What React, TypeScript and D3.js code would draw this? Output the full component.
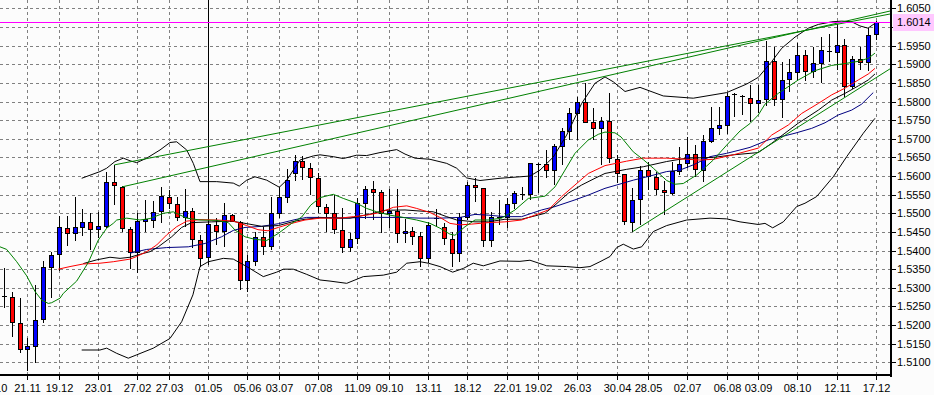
import React from 'react';
import * as d3 from 'd3';

const W = 934;
const H = 395;
const PLOT_R = 890;
const PLOT_B = 375;

// weekly date labels and the bar index they sit on
const dateLabels = ["24.10", "21.11", "19.12", "23.01", "27.02", "27.03", "01.05", "05.06", "03.07", "07.08", "11.09", "09.10", "13.11", "18.12", "22.01", "19.02", "26.03", "30.04", "28.05", "02.07", "06.08", "03.09", "08.10", "12.11", "17.12"];
const dateIdx = [-1.4, 3, 7, 12, 17, 21, 26, 31, 35, 40, 45, 49, 54, 59, 64, 68, 73, 78, 82, 87, 92, 96, 101, 106, 111];

const priceTicks = [1.6050, 1.6000, 1.5950, 1.5900, 1.5850, 1.5800, 1.5750, 1.5700, 1.5650, 1.5600, 1.5550, 1.5500, 1.5450, 1.5400, 1.5350, 1.5300, 1.5250, 1.5200, 1.5150, 1.5100];

const open = [1.5278, 1.5275, 1.5206, 1.5135, 1.5145, 1.5216, 1.5357, 1.5390, 1.5461, 1.5446, 1.5464, 1.5477, 1.5457, 1.5467, 1.5583, 1.5571, 1.5457, 1.5397, 1.5480, 1.5481, 1.5505, 1.5545, 1.5524, 1.5489, 1.5506, 1.5428, 1.5382, 1.5469, 1.5452, 1.5495, 1.5477, 1.5321, 1.5373, 1.5436, 1.5413, 1.5502, 1.5545, 1.5607, 1.5640, 1.5621, 1.5594, 1.5516, 1.5500, 1.5455, 1.5410, 1.5433, 1.5528, 1.5564, 1.5557, 1.5500, 1.5506, 1.5447, 1.5453, 1.5439, 1.5379, 1.5487, 1.5464, 1.5431, 1.5393, 1.5491, 1.5576, 1.5567, 1.5428, 1.5491, 1.5491, 1.5527, 1.5552, 1.5552, 1.5632, 1.5632, 1.5616, 1.5681, 1.5722, 1.5768, 1.5798, 1.5744, 1.5728, 1.5748, 1.5645, 1.5605, 1.5477, 1.5538, 1.5616, 1.5598, 1.5563, 1.5555, 1.5614, 1.5634, 1.5658, 1.5616, 1.5695, 1.5730, 1.5737, 1.5819, 1.5814, 1.5810, 1.5795, 1.5806, 1.5909, 1.5806, 1.5860, 1.5880, 1.5925, 1.5883, 1.5904, 1.5936, 1.5934, 1.5952, 1.5842, 1.5913, 1.5905, 1.5981];
const high = [1.5352, 1.5290, 1.5272, 1.5165, 1.5308, 1.5373, 1.5397, 1.5493, 1.5493, 1.5545, 1.5511, 1.5500, 1.5503, 1.5612, 1.5630, 1.5573, 1.5464, 1.5500, 1.5536, 1.5533, 1.5571, 1.5563, 1.5543, 1.5564, 1.5514, 1.5442, 1.6250, 1.5487, 1.5528, 1.5498, 1.5478, 1.5388, 1.5450, 1.5462, 1.5545, 1.5571, 1.5618, 1.5657, 1.5654, 1.5634, 1.5609, 1.5525, 1.5549, 1.5513, 1.5446, 1.5540, 1.5573, 1.5588, 1.5563, 1.5564, 1.5564, 1.5484, 1.5464, 1.5451, 1.5477, 1.5512, 1.5474, 1.5450, 1.5502, 1.5585, 1.5594, 1.5568, 1.5504, 1.5536, 1.5540, 1.5561, 1.5571, 1.5635, 1.5635, 1.5670, 1.5686, 1.5728, 1.5782, 1.5811, 1.5849, 1.5782, 1.5759, 1.5822, 1.5657, 1.5606, 1.5567, 1.5627, 1.5639, 1.5612, 1.5588, 1.5639, 1.5677, 1.5706, 1.5683, 1.5710, 1.5786, 1.5786, 1.5824, 1.5824, 1.5818, 1.5844, 1.5844, 1.5963, 1.5947, 1.5907, 1.5913, 1.5958, 1.5938, 1.5947, 1.5973, 1.5981, 1.6008, 1.5967, 1.5922, 1.5946, 1.5997, 1.6016];
const low = [1.5245, 1.5169, 1.5124, 1.5077, 1.5098, 1.5206, 1.5273, 1.5346, 1.5413, 1.5426, 1.5439, 1.5402, 1.5433, 1.5461, 1.5522, 1.5451, 1.5350, 1.5339, 1.5450, 1.5461, 1.5474, 1.5511, 1.5479, 1.5463, 1.5406, 1.5356, 1.5361, 1.5415, 1.5410, 1.5477, 1.5294, 1.5289, 1.5359, 1.5388, 1.5402, 1.5487, 1.5527, 1.5588, 1.5589, 1.5549, 1.5502, 1.5451, 1.5444, 1.5394, 1.5397, 1.5418, 1.5484, 1.5482, 1.5446, 1.5460, 1.5420, 1.5419, 1.5415, 1.5357, 1.5366, 1.5463, 1.5415, 1.5357, 1.5370, 1.5482, 1.5531, 1.5409, 1.5410, 1.5469, 1.5460, 1.5511, 1.5536, 1.5536, 1.5554, 1.5594, 1.5576, 1.5630, 1.5697, 1.5697, 1.5742, 1.5697, 1.5630, 1.5635, 1.5581, 1.5469, 1.5451, 1.5469, 1.5563, 1.5549, 1.5495, 1.5549, 1.5603, 1.5621, 1.5598, 1.5585, 1.5688, 1.5710, 1.5713, 1.5759, 1.5764, 1.5746, 1.5768, 1.5788, 1.5788, 1.5755, 1.5826, 1.5858, 1.5856, 1.5862, 1.5851, 1.5907, 1.5885, 1.5813, 1.5834, 1.5885, 1.5883, 1.5965];
const close = [1.5278, 1.5207, 1.5135, 1.5144, 1.5214, 1.5356, 1.5387, 1.5462, 1.5446, 1.5462, 1.5477, 1.5457, 1.5465, 1.5583, 1.5575, 1.5460, 1.5397, 1.5479, 1.5484, 1.5504, 1.5546, 1.5527, 1.5490, 1.5506, 1.5430, 1.5381, 1.5470, 1.5452, 1.5495, 1.5480, 1.5321, 1.5372, 1.5436, 1.5412, 1.5501, 1.5543, 1.5589, 1.5640, 1.5624, 1.5597, 1.5520, 1.5502, 1.5457, 1.5410, 1.5431, 1.5528, 1.5564, 1.5558, 1.5500, 1.5506, 1.5446, 1.5453, 1.5439, 1.5379, 1.5469, 1.5487, 1.5433, 1.5393, 1.5491, 1.5576, 1.5570, 1.5428, 1.5491, 1.5491, 1.5524, 1.5554, 1.5552, 1.5634, 1.5632, 1.5616, 1.5681, 1.5721, 1.5768, 1.5798, 1.5746, 1.5728, 1.5748, 1.5648, 1.5607, 1.5479, 1.5536, 1.5616, 1.5601, 1.5564, 1.5556, 1.5614, 1.5632, 1.5658, 1.5618, 1.5694, 1.5728, 1.5737, 1.5815, 1.5819, 1.5814, 1.5795, 1.5804, 1.5909, 1.5806, 1.5858, 1.5880, 1.5925, 1.5883, 1.5904, 1.5938, 1.5936, 1.5952, 1.5842, 1.5913, 1.5905, 1.5979, 1.6014];

// indicator readings: [bar index, price]
const upperBand = [[9.84, 1.5594], [12.17, 1.5612], [13.02, 1.5621], [14.08, 1.5639], [15.14, 1.5648], [15.99, 1.5641], [16.84, 1.5636], [18.12, 1.5648], [19.81, 1.5670], [21.08, 1.5690], [21.93, 1.5692], [23.21, 1.5670], [24.05, 1.5634], [24.9, 1.5585], [27.03, 1.5585], [29.14, 1.5581], [29.9, 1.5573], [30.85, 1.5589], [31.9, 1.5598], [33.39, 1.5589], [35.0, 1.5570], [35.94, 1.5589], [37.63, 1.5643], [39.33, 1.5654], [40.18, 1.5657], [41.87, 1.5652], [43.14, 1.5647], [44.85, 1.5656], [46.12, 1.5655], [47.82, 1.5663], [49.94, 1.5671], [51.0, 1.5659], [52.27, 1.5648], [54.18, 1.5645], [56.31, 1.5634], [57.58, 1.5621], [58.85, 1.5595], [60.55, 1.5588], [63.1, 1.5594], [65.64, 1.5598], [66.92, 1.5600], [68.19, 1.5616], [69.88, 1.5651], [71.58, 1.5710], [73.49, 1.5795], [75.19, 1.5849], [76.46, 1.5866], [77.52, 1.5853], [79.01, 1.5827], [80.92, 1.5838], [83.88, 1.5815], [87.7, 1.5809], [91.95, 1.5824], [94.5, 1.5847], [95.98, 1.5865], [97.68, 1.5907], [98.96, 1.5943], [100.65, 1.5973], [102.35, 1.5997], [103.62, 1.6007], [105.33, 1.6014], [106.6, 1.6016], [107.88, 1.6014], [108.92, 1.6003], [109.94, 1.5997], [110.83, 1.6010]];
const lowerBand = [[9.84, 1.5133], [12.17, 1.5133], [13.02, 1.5138], [14.3, 1.5124], [15.77, 1.5111], [16.84, 1.5120], [18.96, 1.5138], [21.08, 1.5164], [22.57, 1.5209], [24.0, 1.5281], [24.9, 1.5357], [25.96, 1.5370], [27.87, 1.5379], [29.14, 1.5377], [30.85, 1.5357], [32.96, 1.5330], [34.67, 1.5342], [35.51, 1.5350], [36.78, 1.5350], [38.49, 1.5336], [40.18, 1.5321], [41.45, 1.5318], [43.58, 1.5312], [45.69, 1.5330], [48.24, 1.5334], [49.94, 1.5342], [51.22, 1.5366], [52.91, 1.5370], [53.97, 1.5366], [55.45, 1.5357], [57.07, 1.5342], [58.42, 1.5352], [59.69, 1.5366], [60.97, 1.5359], [63.09, 1.5372], [65.64, 1.5371], [66.91, 1.5374], [69.04, 1.5359], [71.58, 1.5357], [73.28, 1.5354], [74.55, 1.5357], [75.82, 1.5370], [77.1, 1.5384], [77.95, 1.5408], [78.79, 1.5417], [80.07, 1.5404], [81.13, 1.5410], [82.61, 1.5451], [84.31, 1.5467], [86.86, 1.5482], [89.83, 1.5487], [91.95, 1.5485], [93.65, 1.5477], [95.98, 1.5470], [96.83, 1.5473], [97.81, 1.5461], [99.16, 1.5477], [100.86, 1.5518], [101.92, 1.5527], [103.41, 1.5545], [105.52, 1.5598], [107.23, 1.5652], [109.35, 1.5715], [110.83, 1.5755]];
const greenMA = [[-0.56, 1.5410], [0.29, 1.5403], [1.57, 1.5370], [2.84, 1.5332], [3.9, 1.5290], [4.75, 1.5267], [5.59, 1.5258], [6.02, 1.5260], [7.08, 1.5272], [7.5, 1.5285], [9.2, 1.5318], [10.68, 1.5368], [11.95, 1.5428], [13.02, 1.5460], [13.86, 1.5473], [14.3, 1.5482], [15.57, 1.5487], [17.26, 1.5482], [18.54, 1.5486], [20.23, 1.5500], [21.5, 1.5504], [23.21, 1.5487], [24.9, 1.5482], [27.03, 1.5481], [28.5, 1.5475], [29.36, 1.5455], [30.63, 1.5437], [31.9, 1.5430], [33.39, 1.5427], [34.87, 1.5446], [36.58, 1.5473], [37.85, 1.5490], [39.0, 1.5522], [40.18, 1.5542], [41.87, 1.5551], [43.14, 1.5540], [44.85, 1.5527], [46.12, 1.5513], [47.4, 1.5504], [49.09, 1.5495], [50.78, 1.5489], [52.48, 1.5482], [54.18, 1.5473], [55.45, 1.5460], [56.72, 1.5444], [57.36, 1.5441], [58.64, 1.5464], [59.91, 1.5482], [61.6, 1.5482], [63.31, 1.5487], [65.0, 1.5509], [66.7, 1.5540], [68.82, 1.5546], [70.1, 1.5571], [71.37, 1.5616], [72.64, 1.5661], [74.34, 1.5697], [75.61, 1.5712], [76.46, 1.5718], [77.73, 1.5716], [78.5, 1.5705], [80.06, 1.5665], [81.34, 1.5644], [82.61, 1.5621], [84.32, 1.5588], [85.37, 1.5578], [86.43, 1.5580], [88.14, 1.5603], [89.41, 1.5627], [90.25, 1.5643], [91.95, 1.5683], [93.65, 1.5721], [94.92, 1.5741], [95.98, 1.5764], [96.83, 1.5793], [98.52, 1.5822], [101.07, 1.5858], [103.2, 1.5883], [105.32, 1.5897], [107.02, 1.5902], [108.71, 1.5908], [109.98, 1.5916], [110.83, 1.5930]];
const redMA = [[6.86, 1.5350], [8.35, 1.5357], [10.04, 1.5364], [12.17, 1.5366], [13.86, 1.5370], [15.99, 1.5377], [16.84, 1.5384], [18.12, 1.5397], [19.39, 1.5415], [20.66, 1.5442], [21.93, 1.5464], [23.21, 1.5479], [24.9, 1.5483], [27.03, 1.5482], [29.14, 1.5479], [30.85, 1.5467], [32.28, 1.5456], [33.56, 1.5453], [34.87, 1.5462], [36.58, 1.5473], [38.27, 1.5482], [40.18, 1.5487], [42.72, 1.5487], [44.42, 1.5491], [46.12, 1.5495], [47.82, 1.5502], [49.51, 1.5516], [51.22, 1.5520], [52.49, 1.5513], [54.18, 1.5502], [55.45, 1.5489], [56.72, 1.5473], [57.98, 1.5469], [59.49, 1.5471], [61.6, 1.5475], [63.72, 1.5477], [65.84, 1.5482], [67.54, 1.5495], [69.24, 1.5509], [70.94, 1.5545], [72.64, 1.5576], [74.34, 1.5607], [76.46, 1.5628], [79.22, 1.5640], [81.34, 1.5648], [84.31, 1.5648], [86.86, 1.5645], [88.55, 1.5643], [90.25, 1.5645], [92.8, 1.5657], [94.92, 1.5669], [95.98, 1.5675], [97.68, 1.5710], [99.8, 1.5737], [101.5, 1.5768], [103.62, 1.5795], [105.33, 1.5818], [107.02, 1.5836], [108.71, 1.5858], [109.98, 1.5874], [110.83, 1.5889]];
const blackMA = [[10.04, 1.5365], [11.75, 1.5375], [13.44, 1.5382], [14.72, 1.5379], [15.99, 1.5382], [17.26, 1.5390], [18.54, 1.5397], [19.59, 1.5410], [21.3, 1.5437], [22.57, 1.5462], [23.84, 1.5475], [26.39, 1.5477], [28.94, 1.5479], [30.63, 1.5473], [32.76, 1.5465], [34.87, 1.5467], [36.99, 1.5479], [38.27, 1.5484], [40.18, 1.5488], [44.0, 1.5487], [46.56, 1.5498], [48.45, 1.5508], [51.0, 1.5509], [52.91, 1.5506], [54.6, 1.5504], [56.31, 1.5491], [57.58, 1.5482], [59.91, 1.5477], [61.6, 1.5477], [63.72, 1.5484], [65.84, 1.5484], [67.54, 1.5493], [68.82, 1.5500], [70.1, 1.5522], [71.79, 1.5554], [73.49, 1.5576], [75.19, 1.5594], [76.46, 1.5607], [79.22, 1.5618], [81.34, 1.5625], [84.31, 1.5639], [86.86, 1.5648], [90.25, 1.5650], [92.8, 1.5657], [94.92, 1.5661], [95.98, 1.5663], [97.68, 1.5688], [99.37, 1.5715], [101.07, 1.5742], [103.62, 1.5777], [105.33, 1.5804], [107.02, 1.5822], [108.71, 1.5842], [109.98, 1.5858], [110.83, 1.5874]];
const navyMA = [[15.99, 1.5393], [18.12, 1.5403], [20.66, 1.5408], [23.41, 1.5410], [25.54, 1.5419], [27.66, 1.5437], [29.14, 1.5454], [30.63, 1.5462], [32.76, 1.5465], [34.87, 1.5472], [36.99, 1.5483], [38.48, 1.5489], [40.18, 1.5489], [42.72, 1.5487], [46.12, 1.5489], [50.36, 1.5489], [52.91, 1.5487], [55.45, 1.5487], [58.0, 1.5489], [59.91, 1.5497], [61.6, 1.5495], [63.72, 1.5491], [65.84, 1.5491], [68.4, 1.5509], [70.1, 1.5518], [72.64, 1.5536], [74.34, 1.5549], [76.46, 1.5567], [77.95, 1.5576], [80.07, 1.5589], [82.19, 1.5600], [84.31, 1.5612], [86.0, 1.5616], [87.7, 1.5630], [89.83, 1.5652], [91.95, 1.5661], [93.65, 1.5670], [94.92, 1.5677], [97.25, 1.5697], [98.96, 1.5706], [100.65, 1.5715], [102.77, 1.5728], [104.47, 1.5743], [106.16, 1.5764], [107.86, 1.5777], [109.13, 1.5793], [110.61, 1.5824]];

// trend lines (two anchors each, drawn as rays to the right edge)
const trendA = [[14, 1.5630], [78.37, 1.5894]];
const trendB = [[15, 1.5571], [78.37, 1.5877]];
const trendC = [[80, 1.5451], [94.92, 1.5650]];

const bidPrice = 1.6014;

const FONT = "'Liberation Sans', Arial, sans-serif";

export default function App() {
  const x = d3.scaleLinear().domain([0, 111]).range([4.4, 876.3]);
  const y = d3.scaleLinear().domain([1.50659, 1.60726]).range([PLOT_B, 0]);
  const px = (i: number) => Math.floor(x(i)) + 0.5;
  const py = (v: number) => Math.round(y(v)) + 0.5;
  const line = d3.line<number[]>().x(d => x(d[0])).y(d => y(d[1]));
  const iEnd = x.invert(PLOT_R);
  const ray = (a: number[][]) => {
    const [p1, p2] = a;
    const s = (p2[1] - p1[1]) / (p2[0] - p1[0]);
    return line([p1, [iEnd, p1[1] + s * (iEnd - p1[0])]]) || '';
  };

  const candles = open.map((o, i) => {
    const c = close[i];
    const cx = px(i);
    const yO = y(o), yC = y(c);
    const top = Math.round(Math.min(yO, yC));
    const bot = Math.round(Math.max(yO, yC));
    const fill = c > o ? '#0000ff' : '#ff0000';
    return (
      <g key={i}>
        <line x1={cx} x2={cx} y1={y(high[i])} y2={y(low[i])} stroke="#000" strokeWidth={1} shapeRendering="crispEdges" />
        {bot - top < 1 ? (
          <line x1={cx - 2.5} x2={cx + 2.5} y1={top + 0.5} y2={top + 0.5} stroke="#000" strokeWidth={1} shapeRendering="crispEdges" />
        ) : (
          <rect x={cx - 2} y={top + 0.5} width={4} height={bot - top} fill={fill} stroke="#000" strokeWidth={1} shapeRendering="crispEdges" />
        )}
      </g>
    );
  });

  const bg = '#fcfcfc';
  // the 1.6000 label sits under the bid-price box in the reference
  const shownTicks = priceTicks.filter(v => Math.abs(v - bidPrice) > 0.002);

  return (
    <svg width={W} height={H} style={{ position: 'fixed', left: 0, top: 0, display: 'block' }} fontFamily={FONT} fontSize={11}>
      <defs>
        <clipPath id="plotClip">
          <rect x={0} y={0} width={PLOT_R} height={PLOT_B - 1} />
        </clipPath>
      </defs>
      <rect x={0} y={0} width={W} height={H} fill={bg} />
      {/* grid */}
      <g stroke="#808080" strokeWidth={1} strokeDasharray="3,3" shapeRendering="crispEdges">
        {priceTicks.map(v => (
          <line key={'h' + v} x1={0} x2={PLOT_R} y1={py(v)} y2={py(v)} />
        ))}
        {dateIdx.filter(i => i >= 0).map(i => (
          <line key={'v' + i} x1={px(i)} x2={px(i)} y1={0} y2={PLOT_B - 1} />
        ))}
      </g>
      <g clipPath="url(#plotClip)">
        {candles}
        <g fill="none" strokeWidth={1}>
          <path d={line(upperBand) || ''} stroke="#000" />
          <path d={line(lowerBand) || ''} stroke="#000" />
          <path d={line(navyMA) || ''} stroke="#000080" />
          <path d={line(blackMA) || ''} stroke="#000" />
          <path d={line(redMA) || ''} stroke="#ff0000" />
          <path d={line(greenMA) || ''} stroke="#008000" />
          <path d={ray(trendA)} stroke="#008000" />
          <path d={ray(trendB)} stroke="#008000" />
          <path d={ray(trendC)} stroke="#008000" />
        </g>
        <line x1={0} x2={PLOT_R} y1={py(bidPrice)} y2={py(bidPrice)} stroke="#ff00ff" strokeWidth={1} shapeRendering="crispEdges" />
      </g>
      {/* axes */}
      <rect x={PLOT_R} y={0} width={2} height={PLOT_B + 2} fill="#000" />
      <rect x={0} y={PLOT_B - 1} width={PLOT_R + 2} height={2} fill="#000" />
      <g stroke="#000" strokeWidth={1} shapeRendering="crispEdges">
        {priceTicks.map(v => (
          <line key={'rt' + v} x1={892} x2={896} y1={py(v)} y2={py(v)} />
        ))}
        {dateIdx.filter(i => i >= 0).map(i => (
          <line key={'bt' + i} x1={px(i)} x2={px(i)} y1={PLOT_B + 1} y2={PLOT_B + 5} />
        ))}
      </g>
      <g fill="#000">
        {shownTicks.map(v => (
          <text key={'rl' + v} x={897} y={y(v) + 4}>{v.toFixed(4)}</text>
        ))}
        {dateLabels.map((d, k) => (
          <text key={'bl' + d + k} x={px(dateIdx[k])} y={392} textAnchor="middle">{d}</text>
        ))}
      </g>
      <rect x={893} y={14} width={41} height={17} fill="#ffc8ff" />
      <text x={897} y={y(bidPrice) + 4} fill="#000">{bidPrice.toFixed(4)}</text>
    </svg>
  );
}
